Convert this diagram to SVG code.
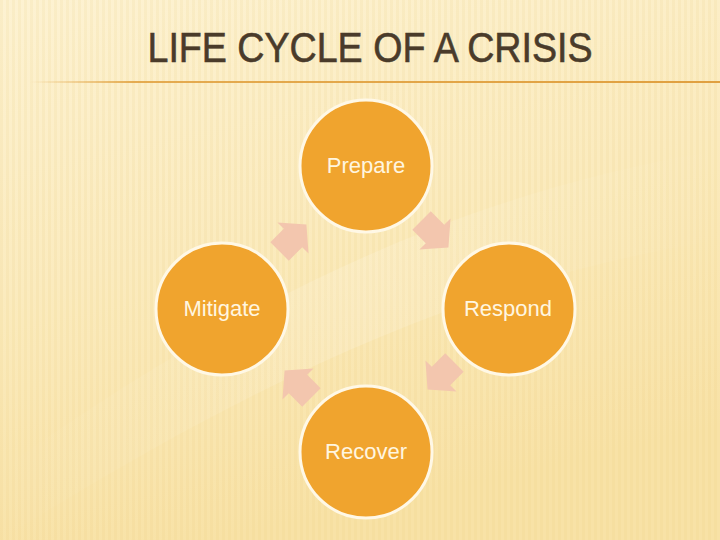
<svg xmlns="http://www.w3.org/2000/svg" width="720" height="540" viewBox="0 0 720 540">
  <defs>
    <linearGradient id="bg" x1="0" y1="0" x2="0.3" y2="1">
      <stop offset="0" stop-color="#FDF2D2"/>
      <stop offset="0.5" stop-color="#FBEBBE"/>
      <stop offset="1" stop-color="#F8E2A6"/>
    </linearGradient>
    <linearGradient id="swoosh" x1="0" y1="0" x2="1" y2="0">
      <stop offset="0" stop-color="#FFFFFF" stop-opacity="0"/>
      <stop offset="0.5" stop-color="#FFFFFF" stop-opacity="0.15"/>
      <stop offset="1" stop-color="#FFFFFF" stop-opacity="0"/>
    </linearGradient>
    <pattern id="stripes" width="6" height="10" patternUnits="userSpaceOnUse">
      <rect x="0" y="0" width="3" height="10" fill="#E8C878" fill-opacity="0.12"/>
    </pattern>
    <linearGradient id="rule" x1="0" y1="0" x2="1" y2="0">
      <stop offset="0" stop-color="#E2A444" stop-opacity="0"/>
      <stop offset="0.15" stop-color="#E2A444" stop-opacity="0.9"/>
      <stop offset="1" stop-color="#E0A040"/>
    </linearGradient>
    <polygon id="arr" points="-19,-13 0,-13 0,-22 19,0 0,22 0,13 -19,13"/>
    <style>
      .node circle { fill: #F0A42E; stroke: #FFF8E6; stroke-width: 3; }
      .node text { font-family: "Liberation Sans", Arial, sans-serif; font-size: 22px; fill: #FFF6E0; text-anchor: middle; }
      .conn use { fill: #F3C6AE; }
      .title { font-family: "Liberation Sans Narrow", "Liberation Sans", Arial, sans-serif; font-size: 42px; fill: #4A3B2A; stroke: #4A3B2A; stroke-width: 0.6; text-anchor: middle; }
    </style>
  </defs>

  <rect width="720" height="540" fill="url(#bg)"/>
  <rect width="720" height="540" fill="url(#stripes)"/>
  <path d="M0,470 C200,330 420,200 720,150 L720,240 C460,280 240,390 0,540 Z" fill="url(#swoosh)"/>

  <text class="title" x="370" y="62" textLength="445" lengthAdjust="spacingAndGlyphs">LIFE CYCLE OF A CRISIS</text>
  <rect x="30" y="81" width="690" height="2" fill="url(#rule)"/>

  <g id="connectors" class="conn">
    <use href="#arr" transform="translate(293,238) rotate(-45)"/>
    <use href="#arr" transform="translate(435,234) rotate(45)"/>
    <use href="#arr" transform="translate(441,376) rotate(135)"/>
    <use href="#arr" transform="translate(298,384) rotate(-135)"/>
  </g>

  <g id="prepare" class="node">
    <circle cx="366" cy="166" r="66"/>
    <text x="366" y="173">Prepare</text>
  </g>
  <g id="respond" class="node">
    <circle cx="509" cy="309" r="66"/>
    <text x="508" y="316">Respond</text>
  </g>
  <g id="recover" class="node">
    <circle cx="366" cy="452" r="66"/>
    <text x="366" y="459">Recover</text>
  </g>
  <g id="mitigate" class="node">
    <circle cx="222" cy="309" r="66"/>
    <text x="222" y="316">Mitigate</text>
  </g>
</svg>
